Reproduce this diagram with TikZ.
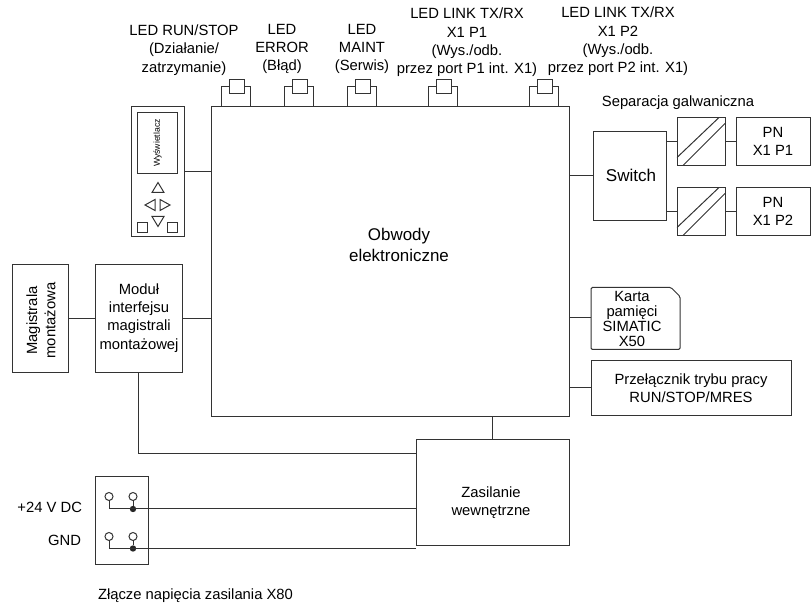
\documentclass[tikz,border=0pt]{standalone}
\usetikzlibrary{calc}
\usepackage{fontspec}
\setmainfont{Liberation Sans}
\begin{document}
\begin{tikzpicture}[x=0.75pt,y=-0.75pt,
  ln/.style={line width=0.75pt,draw=black!80},
  wh/.style 2 args={minimum width=#1*0.75pt,minimum height=#2*0.75pt},
  bx/.style={rectangle,ln,inner sep=0pt,outer sep=0pt,align=center,font=\fontsize{11.1}{13.7}\selectfont},
  lbl/.style={inner sep=0pt,outer sep=0pt,align=center,font=\fontsize{11.1}{13.7}\selectfont},
  pin/.style={circle,ln,fill=white,inner sep=0pt,minimum size=6pt,outer sep=0pt},
  dot/.style={circle,fill=black!85,inner sep=0pt,minimum size=4.8pt,outer sep=0pt}]
\useasboundingbox (0,-0.5) rectangle (811,604.5);
% main
\node[bx,wh={358}{310}] (main) at (390,261) {};
\node[lbl,font=\fontsize{12.7}{15.75}\selectfont] (maintext) at (399,244) {Obwody\\elektroniczne};
% LEDs
\foreach \n/\a/\b in {a/221/229,b/284/292,c/347/355,d/428/436,e/529/537}{
  \draw[ln] (\a,106) -- (\a,86) -- (\b,86);
  \draw[ln] ({\b+15},86) -- ({\b+21.5},86) -- ({\b+21.5},106);
  \node[bx,wh={15}{14}] (s\n) at ({\b+7.5},86) {};
}
\node[lbl] (l1) at (184,49.5) {LED RUN/STOP\\(Działanie/\\zatrzymanie)};
\node[lbl] (l2) at (282,48.5) {LED\\ERROR\\(Błąd)};
\node[lbl] (l3) at (362,48.5) {LED\\MAINT\\(Serwis)};
\node[lbl] (l4) at (467,42) {LED LINK TX/RX\\X1 P1\\(Wys./odb.\\przez port P1 int. X1)};
\node[lbl] (l5) at (618,41) {LED LINK TX/RX\\X1 P2\\(Wys./odb.\\przez port P2 int. X1)};
% display
\node[bx,wh={53}{130}] (disp) at (157.5,171) {};
\node[bx,wh={40}{61}] (screen) at (157.5,142.5) {\rotatebox{90}{\fontsize{6.5}{7}\selectfont Wyświetlacz}};
\draw[ln] (disp.east) -- (disp.east -| main.west);
\draw[ln] (158,182) -- (152,192) -- (164,192) -- cycle;
\draw[ln] (145,204.5) -- (155,199) -- (155,210) -- cycle;
\draw[ln] (170,204.5) -- (160,199) -- (160,210) -- cycle;
\draw[ln] (158,226) -- (152,216) -- (164,216) -- cycle;
\node[bx,wh={10}{10}] (k1) at (142,227) {};
\node[bx,wh={10}{10}] (k2) at (172,227) {};
% switch
\node[bx,wh={73}{89}] (sw) at (629.5,175.5) {};
\node[lbl,font=\fontsize{12.8}{15}\selectfont] (swtext) at (631,175) {Switch};
\draw[ln] (sw.west) -- (sw.west -| main.east);
\node[lbl] (sep) at (678,102.5) {Separacja galwaniczna};
\node[bx,wh={48}{48}] (iso1) at (701,141) {};
\node[bx,wh={48}{48}] (iso2) at (701,211) {};
\foreach \i in {iso1,iso2}{
  \draw[ln] ($(\i.north east)+(-6,0)$) -- ($(\i.south west)+(0,-8)$);
  \draw[ln] ($(\i.north east)+(0,6)$) -- ($(\i.south west)+(6,0)$);
}
\node[bx,wh={74}{48}] (pn1) at (773,141) {PN\\X1 P1};
\node[bx,wh={74}{48}] (pn2) at (773,211) {PN\\X1 P2};
\draw[ln] (iso1.west) -- (iso1.west -| sw.east);
\draw[ln] (iso2.west) -- (iso2.west -| sw.east);
\draw[ln] (iso1) -- (pn1);
\draw[ln] (iso2) -- (pn2);
% card
\coordinate (cardL) at (591,317);
\draw[ln,rounded corners=1pt] (591,287) -- (671,287) -- (680,296) -- (680,349) -- (591,349) -- cycle;
\node[lbl,font=\fontsize{11.1}{11.25}\selectfont] (card) at (632,318) {Karta\\pamięci\\SIMATIC\\X50};
\draw[ln] (cardL) -- (cardL -| main.east);
% mode switch
\node[bx,wh={200}{55}] (mode) at (691,387.5) {Przełącznik trybu pracy\\RUN/STOP/MRES};
\draw[ln] (mode.west) -- (mode.west -| main.east);
% bus
\node[bx,wh={56}{108}] (bus) at (40,318) {};
\node[lbl,rotate=90] (bustext) at (41,320) {Magistrala\\montażowa};
\node[bx,wh={87}{108}] (mod) at (138.5,318) {};
\node[lbl] (modtext) at (139,317.5) {Moduł\\interfejsu\\magistrali\\montażowej};
\draw[ln] (bus) -- (mod);
\draw[ln] (mod.east) -- (mod.east -| main.west);
% power
\node[bx,wh={153}{106}] (pwr) at (492.5,492) {};
\node[lbl] (pwrtext) at (491,502.5) {Zasilanie\\wewnętrzne};
\draw[ln] (pwr.north) -- (pwr.north |- main.south);
\coordinate (modc) at (138,453.5);
\draw[ln] (mod.south -| modc) -- (modc) -- (modc -| pwr.west);
% connector
\node[bx,wh={53}{88}] (conn) at (121.5,520) {};
\node[pin] (p1) at (109,496) {};
\node[pin] (p2) at (133,496) {};
\node[pin] (p3) at (109,536) {};
\node[pin] (p4) at (133,536) {};
\node[dot] (d1) at (133,508.5) {};
\node[dot] (d2) at (133,548) {};
\coordinate (e1) at (416,508.5);
\coordinate (e2) at (416,548);
\draw[ln] (p1) -- (p1 |- d1) -- (e1);
\draw[ln] (p3) -- (p3 |- d2) -- (e2);
\draw[ln] (p2) -- (d1);
\draw[ln] (p4) -- (d2);
\node[lbl,anchor=east] (v24) at (82,507) {+24 V DC};
\node[lbl,anchor=east] (gnd) at (81,540) {GND};
\node[lbl,anchor=west] (x80) at (98,595.5) {Złącze napięcia zasilania X80};
\end{tikzpicture}
\end{document}
